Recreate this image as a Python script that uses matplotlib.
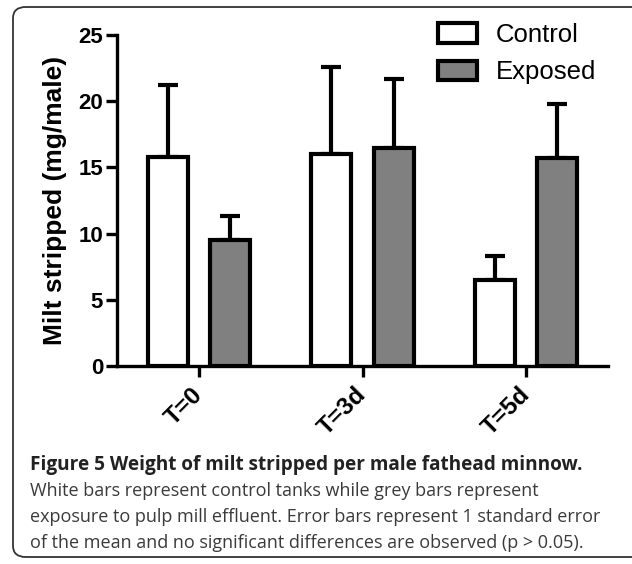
import matplotlib.pyplot as plt
from matplotlib.patches import FancyBboxPatch
import numpy as np

# datos del grafico
grupos = ['T=0', 'T=3d', 'T=5d']
control = [15.8, 16.0, 6.5]
control_err = [5.4, 6.6, 1.8]
expuesto = [9.55, 16.5, 15.7]
expuesto_err = [1.8, 5.2, 4.1]

titulo = 'Figure 5 Weight of milt stripped per male fathead minnow.'
leyenda = ['White bars represent control tanks while grey bars represent',
           'exposure to pulp mill effluent. Error bars represent 1 standard error',
           'of the mean and no significant differences are observed (p > 0.05).']

plt.rcParams['font.family'] = ['Liberation Sans', 'DejaVu Sans']

fig = plt.figure(figsize=(6.32, 5.64), dpi=100)

# marco redondeado (el borde derecho queda fuera de la imagen)
marco = FancyBboxPatch((13 / 632, 7 / 564), 640 / 632, 550 / 564,
                       boxstyle='round,pad=0,rounding_size=0.02',
                       transform=fig.transFigure, facecolor='white',
                       edgecolor='#333333', linewidth=1.3, zorder=-5)
fig.patches.append(marco)

ax = fig.add_axes([117 / 632, 1 - 366 / 564, 491 / 632, 331 / 564])
ax.patch.set_alpha(0)

x = np.arange(len(grupos))
ancho = 0.245
lw = 3.0
err_kw = dict(elinewidth=lw, capthick=lw, capsize=7, ecolor='black')

ax.bar(x - 0.19, control, ancho, color='white', edgecolor='black', linewidth=lw,
       label='Control', zorder=3)
eb1 = ax.errorbar(x - 0.19, control, yerr=[np.zeros(3), control_err], fmt='none', zorder=2, **err_kw)
ax.bar(x + 0.19, expuesto, ancho, color='#808080', edgecolor='black', linewidth=lw,
       label='Exposed', zorder=3)
eb2 = ax.errorbar(x + 0.19, expuesto, yerr=[np.zeros(3), expuesto_err], fmt='none', zorder=2, **err_kw)
for eb in (eb1, eb2):
    for c in eb[1]:
        c.set_solid_capstyle('round')

ax.set_xlim(-0.5, 2.5)
ax.set_ylim(0, 25)
ax.set_yticks([0, 5, 10, 15, 20, 25])
ax.set_xticks(x)
ax.set_xticklabels(grupos, rotation=45, ha='right', va='center', rotation_mode='anchor',
                   fontsize=17.5, fontweight='bold')
for t in ax.get_yticklabels():
    t.set_fontsize(16)
    t.set_fontweight('bold')

ax.spines['top'].set_visible(False)
ax.spines['right'].set_visible(False)
ax.spines['left'].set_linewidth(2.4)
ax.spines['bottom'].set_linewidth(2.4)
ax.tick_params(axis='both', width=2.4, length=8, pad=2)
ax.tick_params(axis='x', pad=10)

ax.set_ylabel('Milt stripped (mg/male)', fontsize=19, fontweight='bold', labelpad=8)

ax.legend(loc='upper left', bbox_to_anchor=(420 / 632, 1 - 5 / 564),
          bbox_transform=fig.transFigure, frameon=False, fontsize=18.5,
          handlelength=1.5, handleheight=0.8, labelspacing=0.52, handletextpad=0.75,
          borderpad=0.2)

# pie de figura
fig.text(30 / 632, 1 - 470 / 564, titulo, fontsize=13.7, fontweight='bold',
         color='#222222', va='baseline', family=['Open Sans', 'DejaVu Sans'])
for i, linea in enumerate(leyenda):
    fig.text(30 / 632, 1 - (496 + 26 * i) / 564, linea, fontsize=13,
             color='#3a3a3a', va='baseline', family=['Open Sans', 'DejaVu Sans'])

fig.savefig('out.png', dpi=100)
